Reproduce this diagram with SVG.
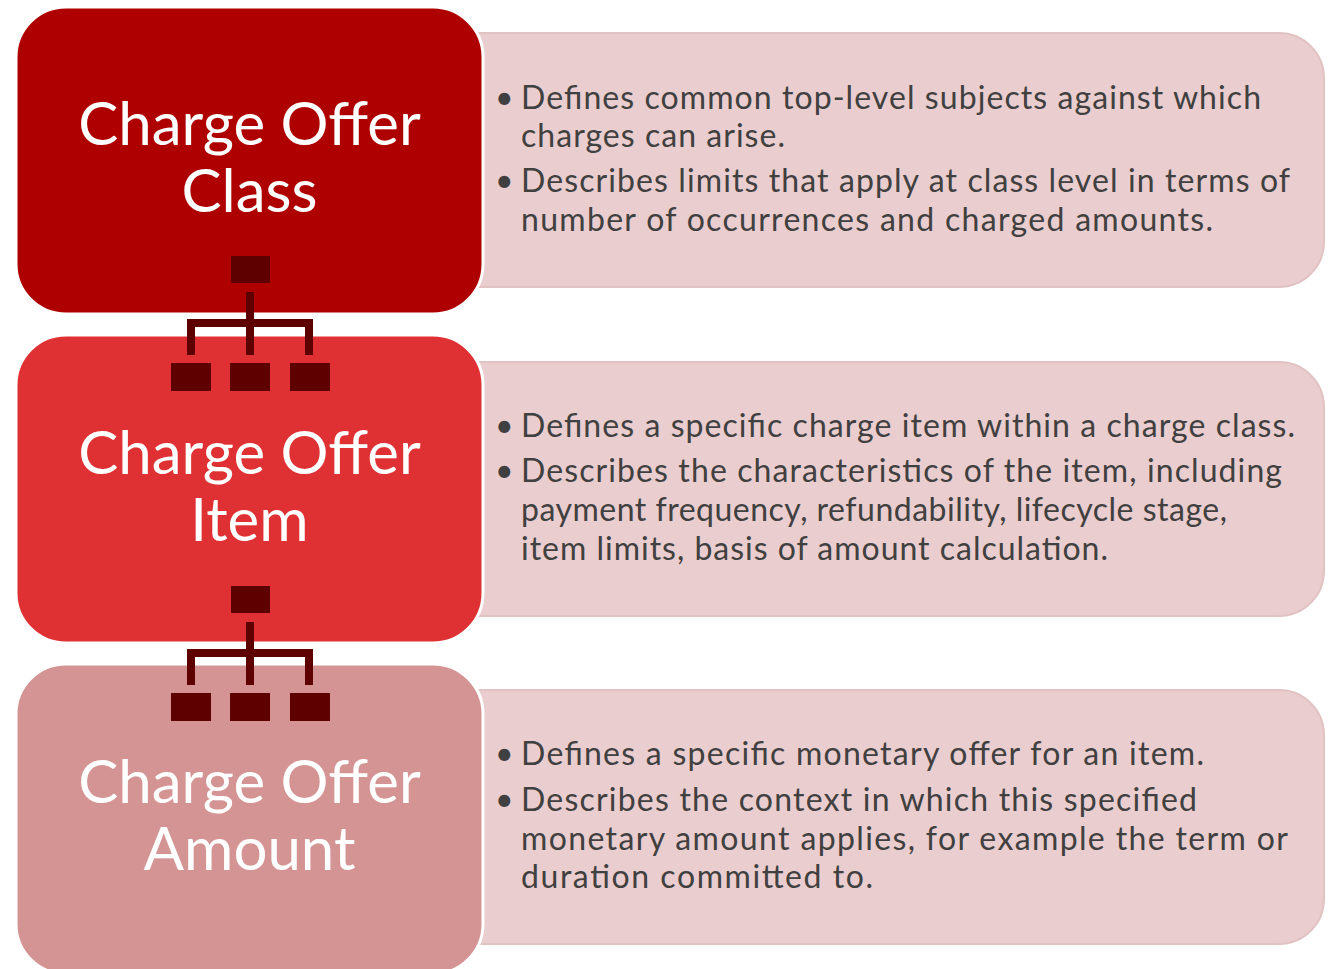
<svg xmlns="http://www.w3.org/2000/svg" width="1332" height="969" viewBox="0 0 1332 969">
<style>
.desc{fill:#EACDCE;stroke:#E2C3C4;stroke-width:2}
.lbl{stroke:#FFFFFF;stroke-width:3}
.title{font-family:Lato,"Open Sans",sans-serif;font-size:60px;fill:#FFFFFF;text-anchor:middle}
.txt{font-family:Lato,"Open Sans",sans-serif;font-size:32px;fill:#404040}
.ic{fill:#5F0000}
</style>
<rect width="1332" height="969" fill="#FFFFFF"/>
<g id="desc1">
<rect class="desc" x="430" y="33" width="894" height="254" rx="45"/>
<text class="txt" x="495" y="109">•</text>
<text class="txt" x="521" y="109" textLength="740" lengthAdjust="spacing">Defines common top-level subjects against which</text>
<text class="txt" x="521" y="147" textLength="264" lengthAdjust="spacing">charges can arise.</text>
<text class="txt" x="495" y="192">•</text>
<text class="txt" x="521" y="192" textLength="769" lengthAdjust="spacing">Describes limits that apply at class level in terms of</text>
<text class="txt" x="521" y="231" textLength="692" lengthAdjust="spacing">number of occurrences and charged amounts.</text>
</g>
<g id="desc2">
<rect class="desc" x="430" y="362" width="894" height="254" rx="45"/>
<text class="txt" x="495" y="437">•</text>
<text class="txt" x="521" y="437" textLength="774" lengthAdjust="spacing">Defines a specific charge item within a charge class.</text>
<text class="txt" x="495" y="482">•</text>
<text class="txt" x="521" y="482" textLength="761" lengthAdjust="spacing">Describes the characteristics of the item, including</text>
<text class="txt" x="521" y="521" textLength="706" lengthAdjust="spacing">payment frequency, refundability, lifecycle stage,</text>
<text class="txt" x="521" y="560" textLength="587" lengthAdjust="spacing">item limits, basis of amount calculation.</text>
</g>
<g id="desc3">
<rect class="desc" x="430" y="690" width="894" height="254" rx="45"/>
<text class="txt" x="495" y="765">•</text>
<text class="txt" x="521" y="765" textLength="683" lengthAdjust="spacing">Defines a specific monetary offer for an item.</text>
<text class="txt" x="495" y="811">•</text>
<text class="txt" x="521" y="811" textLength="676" lengthAdjust="spacing">Describes the context in which this specified</text>
<text class="txt" x="521" y="850" textLength="767" lengthAdjust="spacing">monetary amount applies, for example the term or</text>
<text class="txt" x="521" y="888" textLength="352" lengthAdjust="spacing">duration committed to.</text>
</g>
<g id="node-class">
<rect class="lbl" x="16" y="7" width="467" height="307" rx="50" fill="#AF0000"/>
<text class="title" x="249.5" y="145">Charge Offer</text>
<text class="title" x="249.5" y="212">Class</text>
</g>
<g id="node-item">
<rect class="lbl" x="16" y="335" width="467" height="308" rx="50" fill="#DF3033"/>
<text class="title" x="249.5" y="474">Charge Offer</text>
<text class="title" x="249.5" y="541">Item</text>
</g>
<g id="node-amount">
<rect class="lbl" x="16" y="664" width="467" height="310" rx="50" fill="#D49494"/>
<text class="title" x="249.5" y="803">Charge Offer</text>
<text class="title" x="249.5" y="870">Amount</text>
</g>
<g id="connectors">
<g id="hier1" class="ic">
<rect x="231" y="256" width="39" height="27"/>
<rect x="246" y="292" width="8" height="63"/>
<rect x="187" y="319" width="126" height="8"/>
<rect x="187" y="319" width="8" height="36"/>
<rect x="305" y="319" width="8" height="36"/>
<rect x="171" y="363" width="40" height="28"/>
<rect x="230" y="363" width="40" height="28"/>
<rect x="290" y="363" width="40" height="28"/>
</g>
<g id="hier2" class="ic" transform="translate(0,330)">
<rect x="231" y="256" width="39" height="27"/>
<rect x="246" y="292" width="8" height="63"/>
<rect x="187" y="319" width="126" height="8"/>
<rect x="187" y="319" width="8" height="36"/>
<rect x="305" y="319" width="8" height="36"/>
<rect x="171" y="363" width="40" height="28"/>
<rect x="230" y="363" width="40" height="28"/>
<rect x="290" y="363" width="40" height="28"/>
</g>
</g>
</svg>
